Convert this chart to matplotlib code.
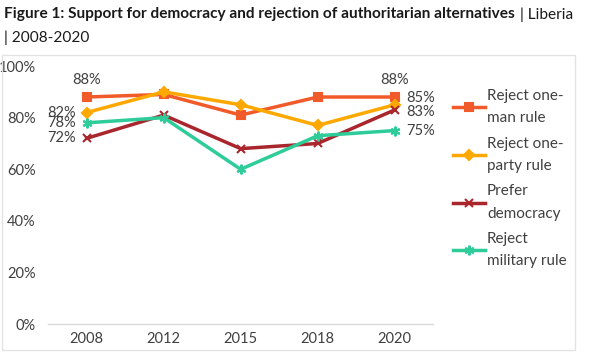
import matplotlib
matplotlib.use("Agg")
import matplotlib.pyplot as plt
from matplotlib.patches import Rectangle

plt.rcParams['font.family'] = ['Lato', 'DejaVu Sans']

years = ["2008", "2012", "2015", "2018", "2020"]
one_man = [88, 89, 81, 88, 88]
one_party = [82, 90, 85, 77, 85]
democracy = [72, 81, 68, 70, 83]
military = [78, 80, 60, 73, 75]

series = [
    ("Reject one-\nman rule", one_man, "#F15A29", "s", 6),
    ("Reject one-\nparty rule", one_party, "#FFA800", "D", 5),
    ("Prefer\ndemocracy", democracy, "#A8262C", "x", 6),
    ("Reject\nmilitary rule", military, "#2ECC98", (6, 2, 0), 7),
]

txt = "#404040"

fig = plt.figure(figsize=(5.95, 3.57), dpi=100)
ax = fig.add_axes([0.081, 0.092, 0.647, 0.723])

x = range(len(years))
for name, vals, col, mk, ms in series:
    ax.plot(x, vals, color=col, lw=2.5, marker=mk, markersize=ms,
            markeredgewidth=1.5, label=name)

ax.set_xlim(-0.5, 4.5)
ax.set_ylim(0, 100)
ax.set_xticks(list(x))
ax.set_xticklabels(years)
ax.set_yticks(range(0, 101, 20))
ax.set_yticklabels([f"{v}%" for v in range(0, 101, 20)])
ax.tick_params(length=0, labelsize=10.5, colors=txt, pad=6)
ax.tick_params(axis='y', pad=9)
for s in ["top", "right", "left"]:
    ax.spines[s].set_visible(False)
ax.spines["bottom"].set_color("#d9d9d9")
ax.spines["bottom"].set_linewidth(1)

# data labels
fs = 10.5
ax.annotate(f"{one_man[0]}%", (0, one_man[0]), xytext=(0, 7), textcoords="offset points",
            ha="center", va="bottom", fontsize=fs, color=txt)
ax.annotate(f"{one_man[4]}%", (4, one_man[4]), xytext=(0, 7), textcoords="offset points",
            ha="center", va="bottom", fontsize=fs, color=txt)
for vals in [one_party, military, democracy]:
    ax.annotate(f"{vals[0]}%", (0, vals[0]), xytext=(-8, 0), textcoords="offset points",
                ha="right", va="center", fontsize=fs, color=txt)
right_off = [(one_party, 5), (democracy, -1.5), (military, 0)]
for vals, dy in right_off:
    ax.annotate(f"{vals[4]}%", (4, vals[4]), xytext=(8, dy), textcoords="offset points",
                ha="left", va="center", fontsize=fs, color=txt)

leg = ax.legend(loc="upper left", bbox_to_anchor=(1.035, 0.935), frameon=False,
                fontsize=11, labelcolor=txt, handlelength=2.1, handletextpad=0.15,
                labelspacing=0.75, borderaxespad=0)
for t in leg.get_texts():
    t.set_linespacing(1.75)

# light frame around chart
fig.patches.append(Rectangle((0.003, 0.02), 0.963, 0.825, transform=fig.transFigure,
                             fill=False, edgecolor="#e3e3e3", lw=1))

# title
t1 = fig.text(0.007, 0.98, "Figure 1: Support for democracy and rejection of authoritarian alternatives",
              fontsize=11.1, fontweight="bold", color="#1a1a1a", va="top", ha="left")
fig.canvas.draw()
bb = t1.get_window_extent().transformed(fig.transFigure.inverted())
fig.text(bb.x1 + 0.008, 0.98, "| Liberia", fontsize=11.1, color="#1a1a1a", va="top", ha="left")
fig.text(0.007, 0.915, "| 2008-2020", fontsize=11.1, color="#1a1a1a", va="top", ha="left")

fig.savefig("out.png", dpi=100)
